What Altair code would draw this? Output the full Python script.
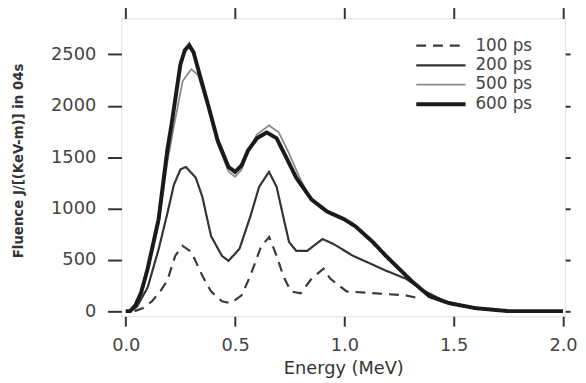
import altair as alt
import pandas as pd

# ---- data ----
series_names = ["100 ps", "200 ps", "500 ps", "600 ps"]

e_100 = [0.04, 0.08, 0.12, 0.16, 0.19, 0.226, 0.26, 0.30, 0.35, 0.39, 0.44, 0.48, 0.53, 0.57,
         0.62, 0.656, 0.69, 0.72, 0.755, 0.80, 0.85, 0.905, 0.935, 1.01, 1.145, 1.28, 1.35]
f_100 = [0, 30, 96, 200, 298, 538, 635, 577, 346, 192, 96, 77, 154, 346,
         635, 721, 538, 346, 192, 173, 317, 413, 317, 192, 173, 154, 120]

e_200 = [0, 0.02, 0.05, 0.10, 0.15, 0.19, 0.22, 0.25, 0.275, 0.32, 0.35, 0.39, 0.44, 0.47, 0.52,
         0.57, 0.61, 0.655, 0.69, 0.72, 0.747, 0.78, 0.83, 0.90, 0.95, 1.04, 1.12, 1.19, 1.28,
         1.37, 1.46, 1.60, 1.75, 2.0]
f_200 = [0, 0, 40, 230, 600, 950, 1230, 1380, 1404, 1300, 1115, 731, 538, 490, 606,
         923, 1211, 1356, 1211, 923, 673, 587, 587, 702, 654, 538, 462, 394, 317,
         192, 96, 29, 0, 0]

e_500 = [0, 0.02, 0.045, 0.07, 0.10, 0.15, 0.19, 0.22, 0.26, 0.30, 0.33, 0.38, 0.42, 0.47, 0.50,
         0.53, 0.56, 0.60, 0.655, 0.70, 0.74, 0.80, 0.85, 0.92, 1.0, 1.05, 1.13, 1.19, 1.25,
         1.31, 1.39, 1.48, 1.60, 1.75, 2.0]
f_500 = [0, 0, 50, 160, 380, 850, 1450, 1800, 2240, 2356, 2300, 1960, 1630, 1360, 1308,
         1380, 1560, 1720, 1808, 1740, 1567, 1279, 1080, 960, 885, 820, 670, 540, 415,
         290, 150, 80, 30, 0, 0]

e_600 = [0, 0.02, 0.045, 0.07, 0.10, 0.15, 0.19, 0.21, 0.23, 0.25, 0.27, 0.29, 0.31, 0.33, 0.38,
         0.42, 0.47, 0.50, 0.53, 0.56, 0.60, 0.645, 0.69, 0.74, 0.78, 0.85, 0.92, 1.0, 1.05,
         1.13, 1.19, 1.25, 1.31, 1.39, 1.48, 1.60, 1.75, 2.0]
f_600 = [0, 0, 60, 180, 413, 894, 1567, 1827, 2115, 2404, 2540, 2590, 2520, 2365, 1981,
         1663, 1404, 1356, 1420, 1567, 1683, 1740, 1683, 1471, 1298, 1086, 971, 894, 827,
         673, 538, 413, 288, 144, 77, 29, 0, 0]

y_ticks = [0, 500, 1000, 1500, 2000, 2500]
x_ticks = [0.0, 0.5, 1.0, 1.5, 2.0]

rows = []
for name, es, fs in [("100 ps", e_100, f_100), ("200 ps", e_200, f_200),
                     ("500 ps", e_500, f_500), ("600 ps", e_600, f_600)]:
    for i, (e, f) in enumerate(zip(es, fs)):
        rows.append({"series": name, "energy": e, "fluence": f, "order": i})
df = pd.DataFrame(rows)

FONT = "DejaVu Sans"

xscale = alt.Scale(domain=[-0.02, 2.01], nice=False, zero=False)
yscale = alt.Scale(domain=[-50, 2850], nice=False, zero=False)


def leg():
    return alt.Legend(title=None, orient="none", legendX=312, legendY=16,
                      symbolType="M-2.5,0H2.5", symbolSize=400, labelFont=FONT,
                      labelFontSize=17, labelColor="#444", labelOffset=23,
                      padding=0, rowPadding=0)


color = alt.Color("series:N", scale=alt.Scale(type="ordinal", domain=series_names,
                                              range=["#3a3a3a", "#333333", "#8a8a8a", "#1a1a1a"]),
                  legend=leg())
dash = alt.StrokeDash("series:N", scale=alt.Scale(type="ordinal", domain=series_names,
                                                  range=[[10, 7], [1, 0], [1, 0], [1, 0]]),
                      legend=leg())
width = alt.StrokeWidth("series:N", scale=alt.Scale(type="ordinal", domain=series_names,
                                                    range=[2.2, 2.2, 1.8, 4.0]),
                        legend=leg())

main = alt.Chart(df).mark_line().encode(
    x=alt.X("energy:Q", scale=xscale,
            axis=alt.Axis(values=x_ticks, format=".1f", title="Energy (MeV)", grid=False,
                          domain=False, tickSize=10, tickWidth=2, tickColor="#333",
                          labelFont=FONT, labelFontSize=18, labelColor="#444", labelPadding=11,
                          titleFont=FONT, titleFontSize=18, titleFontWeight="normal",
                          titleColor="#333", titlePadding=5)),
    y=alt.Y("fluence:Q", scale=yscale,
            axis=alt.Axis(values=y_ticks, format="d", title="Fluence J/[(KeV-m)] in 04s",
                          grid=False,
                          domain=False, tickSize=14, tickWidth=2, tickColor="#333",
                          labelFont=FONT, labelFontSize=18, labelColor="#444", labelPadding=12,
                          titleFont="DejaVu Sans Condensed", titleFontSize=15,
                          titleFontWeight="bold", titleColor="#333",
                          titleX=-105, titleY=144, titleAngle=-90, titleAlign="center",
                          titleBaseline="middle")),
    color=color,
    strokeDash=dash,
    strokeWidth=width,
    order="order:Q",
)

mirror = alt.Chart(df).mark_point(opacity=0).encode(
    x=alt.X("energy:Q", scale=xscale,
            axis=alt.Axis(orient="top", values=x_ticks, labels=False, title=None, grid=False,
                          domain=False, tickSize=11, tickWidth=2, tickColor="#333")),
    y=alt.Y("fluence:Q", scale=yscale,
            axis=alt.Axis(orient="right", values=y_ticks, labels=False, title=None, grid=False,
                          domain=False, tickSize=5, tickWidth=2, tickColor="#333")),
)

chart = alt.layer(main, mirror).resolve_axis(x="independent", y="independent").properties(
    width=450, height=302,
    autosize=alt.AutoSizeParams(type="none"),
    padding={"left": 115, "top": 8, "right": 13, "bottom": 60},
).configure_view(stroke="#666666", strokeWidth=3).configure(background="white")

chart.save("out.html", embed_options={"renderer": "svg", "actions": False})
